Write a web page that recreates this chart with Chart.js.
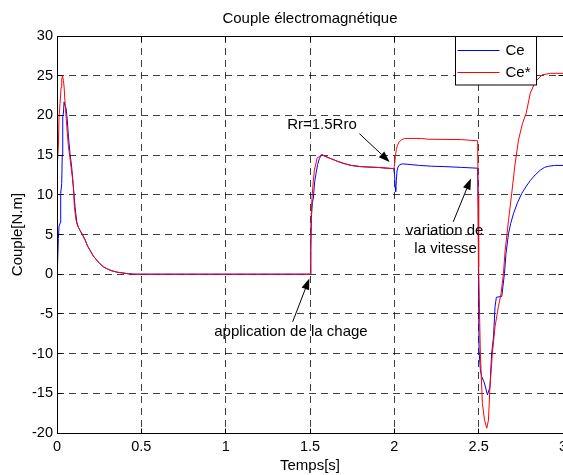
<!DOCTYPE html>
<html><head><meta charset="utf-8">
<script src="https://cdn.jsdelivr.net/npm/chart.js@4"></script>
<style>html,body{margin:0;padding:0;background:#fff;overflow:hidden}</style>
</head><body>
<canvas id="c" width="563" height="475"></canvas>
<script>
const titleText = 'Couple électromagnétique';
const xTitle = 'Temps[s]';
const yTitle = 'Couple[N.m]';
const xTicks = [0, 0.5, 1, 1.5, 2, 2.5, 3];
const xTickLabels = ['0', '0.5', '1', '1.5', '2', '2.5', '3'];
const yTicks = [-20, -15, -10, -5, 0, 5, 10, 15, 20, 25, 30];
const yTickLabels = ['-20', '-15', '-10', '-5', '0', '5', '10', '15', '20', '25', '30'];

const seriesNames = ['Ce', 'Ce*'];

// Ce (blue)
const tCe = [0, 0.002, 0.008, 0.012, 0.02, 0.022, 0.028, 0.031, 0.034, 0.038, 0.042, 0.048, 0.054, 0.061, 0.068, 0.077, 0.087, 0.097, 0.107, 0.117, 0.127, 0.137, 0.15, 0.167, 0.18, 0.196, 0.215, 0.236, 0.255, 0.276, 0.3, 0.326, 0.355, 0.385, 0.425, 0.46,
  1.502, 1.505, 1.508, 1.514, 1.52, 1.527, 1.535, 1.545, 1.556, 1.57, 1.595, 1.63, 1.665, 1.7, 1.744, 1.8, 1.843, 1.9, 1.96, 1.996,
  2.001, 2.005, 2.008, 2.012, 2.016, 2.022, 2.032, 2.05, 2.1, 2.15, 2.22, 2.3, 2.4, 2.494,
  2.497, 2.499, 2.502, 2.51, 2.518, 2.534, 2.552, 2.567, 2.577, 2.588, 2.597, 2.605, 2.637, 2.653, 2.662, 2.677, 2.69, 2.706, 2.73, 2.756, 2.78, 2.806, 2.835, 2.865, 2.89, 2.915, 2.95, 3.0];
const vCe = [0, 0.3, 4.5, 6.0, 6.5, 10.2, 11.4, 15, 19.8, 20.3, 21.7, 21.2, 20.9, 19.4, 17.3, 15.2, 13.5, 11.0, 8.5, 6.6, 5.9, 5.5, 5.0, 4.3, 3.6, 3.0, 2.3, 1.76, 1.3, 0.92, 0.65, 0.42, 0.26, 0.17, 0.05, 0,
  0, 3, 7.0, 9.0, 9.6, 11.5, 12.6, 13.8, 14.6, 15.05, 14.8, 14.5, 14.2, 13.95, 13.7, 13.55, 13.5, 13.45, 13.35, 13.3,
  12.6, 11.0, 10.4, 11.8, 13.0, 13.5, 13.8, 13.9, 13.8, 13.7, 13.6, 13.55, 13.45, 13.35,
  8, 0.1, -9.6, -12.0, -12.9, -13.7, -15.2, -14.2, -10.0, -7.9, -4.1, -2.9, -2.8, 0.1, 2.6, 5.1, 6.4, 7.6, 9.0, 10.2, 11.0, 11.8, 12.5, 13.1, 13.45, 13.6, 13.7, 13.7];

// Ce* (red)
const tCeRef = [0, 0.001, 0.003, 0.008, 0.012, 0.018, 0.024, 0.028, 0.033, 0.038, 0.042, 0.048, 0.054, 0.061, 0.068, 0.075, 0.081, 0.09, 0.097, 0.103, 0.113, 0.12, 0.127, 0.137, 0.15, 0.167, 0.18, 0.196, 0.215, 0.236, 0.255, 0.276, 0.3, 0.326, 0.355, 0.385, 0.425, 0.46,
  1.502, 1.504, 1.507, 1.512, 1.52, 1.526, 1.542, 1.57, 1.595, 1.63, 1.665, 1.7, 1.744, 1.8, 1.843, 1.9, 1.96, 1.996,
  2.0, 2.006, 2.012, 2.018, 2.03, 2.042, 2.06, 2.16, 2.2, 2.4, 2.494,
  2.497, 2.5, 2.51, 2.522, 2.535, 2.548, 2.558, 2.567, 2.581, 2.597, 2.617, 2.633, 2.647, 2.657, 2.677, 2.696, 2.716, 2.736, 2.76, 2.782, 2.806, 2.835, 2.875, 2.925, 3.0];
const vCeRef = [0, 7, 13.8, 16, 19.8, 21.5, 23.5, 24.6, 25.0, 24.4, 23.6, 21.5, 19.8, 17.8, 16.0, 15.0, 13.9, 12.4, 11.0, 8.5, 6.8, 6.2, 5.9, 5.5, 5.0, 4.3, 3.6, 3.0, 2.3, 1.76, 1.3, 0.92, 0.65, 0.42, 0.26, 0.17, 0.05, 0,
  0, 4, 7.2, 9.7, 11.8, 13.1, 14.6, 15.07, 14.8, 14.5, 14.2, 13.95, 13.7, 13.55, 13.5, 13.45, 13.35, 13.3,
  13.6, 14.8, 15.7, 16.2, 16.7, 16.9, 17.1, 17.1, 17.0, 16.95, 16.8,
  10, 0.9, -10, -16.3, -18.4, -19.4, -18.4, -14.2, -10, -6.6, -4.1, -2.4, 0.1, 3.0, 6.8, 10.2, 13.9, 16.9, 19.0, 20.3, 22.8, 24.2, 25.1, 25.3, 25.3];

// annotations (data coordinates)
const annoTexts = ['Rr=1.5Rro', 'application de la chage', 'variation de', 'la vitesse'];
const annoTextX = [1.571, 1.387, 2.298, 2.304];
const annoTextY = [18.77, -7.27, 5.45, 3.24];
const arrowFromX = [1.793, 1.397, 2.349];
const arrowFromY = [17.7, -6.0, 6.59];
const arrowToX = [1.972, 1.496, 2.454];
const arrowToY = [14.14, -0.55, 12.05];

const FONT = '"Liberation Sans", Arial, Helvetica, sans-serif';
const blue = '#0000ff', red = '#ff0000';

const al = p => Math.round(p - 0.5) + 0.5;

const decor = {
  id: 'decor',
  afterDraw(chart) {
    const {ctx, chartArea: a, scales: {x, y}} = chart;
    ctx.save();
    ctx.setLineDash([]);
    ctx.strokeStyle = '#000';
    ctx.lineWidth = 1;
    const L = al(a.left), R = al(a.right), T = al(a.top), B = al(a.bottom);
    ctx.strokeRect(L, T, R - L, B - T);
    // inner ticks
    ctx.beginPath();
    xTicks.forEach(v => {
      const px = al(x.getPixelForValue(v));
      ctx.moveTo(px, B); ctx.lineTo(px, B - 5);
      ctx.moveTo(px, T); ctx.lineTo(px, T + 5);
    });
    yTicks.forEach(v => {
      const py = al(y.getPixelForValue(v));
      ctx.moveTo(L, py); ctx.lineTo(L + 5, py);
      ctx.moveTo(R, py); ctx.lineTo(R - 5, py);
    });
    ctx.stroke();

    // annotations
    ctx.fillStyle = '#000';
    ctx.font = '15px ' + FONT;
    ctx.textAlign = 'center';
    ctx.textBaseline = 'middle';
    annoTexts.forEach((s, i) => {
      ctx.fillText(s, x.getPixelForValue(annoTextX[i]), y.getPixelForValue(annoTextY[i]));
    });
    arrowFromX.forEach((_, i) => {
      const x1 = x.getPixelForValue(arrowFromX[i]), y1 = y.getPixelForValue(arrowFromY[i]);
      const x2 = x.getPixelForValue(arrowToX[i]), y2 = y.getPixelForValue(arrowToY[i]);
      const ang = Math.atan2(y2 - y1, x2 - x1);
      const hl = 11, hw = 4;
      const bx = x2 - hl * Math.cos(ang), by = y2 - hl * Math.sin(ang);
      ctx.beginPath();
      ctx.moveTo(x1, y1); ctx.lineTo(bx, by);
      ctx.stroke();
      ctx.beginPath();
      ctx.moveTo(x2, y2);
      ctx.lineTo(bx + hw * Math.sin(ang), by - hw * Math.cos(ang));
      ctx.lineTo(bx - hw * Math.sin(ang), by + hw * Math.cos(ang));
      ctx.closePath();
      ctx.fill();
    });

    // legend
    const lx = R - 108, ly = T, lw = 81, lh = 48.5;
    ctx.fillStyle = '#fff';
    ctx.fillRect(lx, ly, lw, lh);
    ctx.strokeStyle = '#000';
    ctx.strokeRect(al(lx), al(ly), lw, lh);
    const cols = [blue, red];
    ctx.textAlign = 'left';
    ctx.font = '15px ' + FONT;
    seriesNames.forEach((n, i) => {
      const yy = al(ly + 13.5 + i * 22);
      ctx.strokeStyle = cols[i];
      ctx.beginPath(); ctx.moveTo(lx + 2, yy); ctx.lineTo(lx + 44, yy); ctx.stroke();
      ctx.fillStyle = '#000';
      ctx.fillText(n, lx + 50, yy);
    });
    ctx.restore();
  }
};

const tickFont = {family: FONT, size: 14.5};
const labFont = {family: FONT, size: 15};

new Chart(document.getElementById('c'), {
  type: 'line',
  data: {
    datasets: [
      {label: seriesNames[0], data: tCe.map((t, i) => ({x: t, y: vCe[i]})), borderColor: blue, borderWidth: 1, pointRadius: 0, tension: 0, fill: false, order: 1},
      {label: seriesNames[1], data: tCeRef.map((t, i) => ({x: t, y: vCeRef[i]})), borderColor: red, borderWidth: 1, pointRadius: 0, tension: 0, fill: false, order: 0}
    ]
  },
  options: {
    responsive: false,
    animation: false,
    devicePixelRatio: 1,
    layout: {padding: 0},
    plugins: {
      legend: {display: false},
      tooltip: {enabled: false},
      title: {display: true, fullSize: false, text: titleText, color: '#000', font: {family: FONT, size: 15, weight: 'normal'}, padding: {top: 10, bottom: 8}}
    },
    scales: {
      x: {
        type: 'linear', min: 0, max: 3,
        afterBuildTicks: s => { s.ticks = xTicks.map(v => ({value: v})); },
        afterFit: s => { s.height = 42; s.paddingRight = 0; s.paddingLeft = 0; },
        ticks: {callback: (v, i) => xTickLabels[i], color: '#000', font: tickFont, padding: 5, maxRotation: 0, autoSkip: false},
        grid: {color: 'rgba(0,0,0,0.75)', lineWidth: 1, drawTicks: false},
        border: {display: false, dash: [7, 5]},
        title: {display: true, text: xTitle, color: '#000', font: labFont, padding: {top: 0, bottom: 0}}
      },
      y: {
        type: 'linear', min: -20, max: 30,
        afterBuildTicks: s => { s.ticks = yTicks.map(v => ({value: v})); },
        afterFit: s => { s.width = 57; },
        ticks: {callback: (v, i) => yTickLabels[i], color: '#000', font: tickFont, padding: 4, autoSkip: false},
        grid: {color: 'rgba(0,0,0,0.75)', lineWidth: 1, drawTicks: false},
        border: {display: false, dash: [7, 5]},
        title: {display: true, text: yTitle, color: '#000', font: labFont, padding: {top: 9, bottom: 0}}
      }
    }
  },
  plugins: [decor]
});
</script>
</body></html>
